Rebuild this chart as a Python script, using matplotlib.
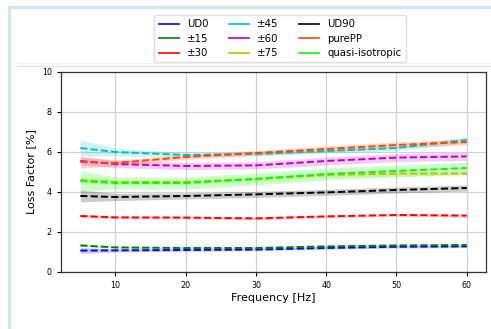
import matplotlib
matplotlib.use("Agg")
import matplotlib.pyplot as plt
from matplotlib.lines import Line2D
from matplotlib.patches import Rectangle
import numpy as np

freq = [5, 10, 20, 30, 40, 50, 60]

names = ["UD0", "±15", "±30", "±45", "±60", "±75", "UD90", "purePP", "quasi-isotropic"]
colors = ["blue", "green", "red", "c", "m", "y", "k", "orangered", "lime"]

ud0 = [1.07, 1.08, 1.10, 1.12, 1.20, 1.26, 1.28]
pm15 = [1.33, 1.23, 1.20, 1.20, 1.28, 1.33, 1.35]
pm30 = [2.80, 2.73, 2.72, 2.68, 2.78, 2.85, 2.82]
pm45 = [6.20, 6.00, 5.85, 5.90, 6.05, 6.20, 6.60]
pm60 = [5.55, 5.40, 5.30, 5.33, 5.55, 5.72, 5.78]
pm75 = [4.60, 4.50, 4.50, 4.65, 4.85, 4.92, 4.92]
ud90 = [3.80, 3.75, 3.80, 3.88, 3.98, 4.10, 4.20]
purepp = [5.50, 5.45, 5.75, 5.95, 6.15, 6.35, 6.50]
quasi = [4.55, 4.45, 4.45, 4.65, 4.90, 5.05, 5.20]

# standard deviations (band half widths)
sd_ud0 = [0.15, 0.08, 0.06, 0.06, 0.06, 0.06, 0.06]
sd_pm15 = [0.05, 0.04, 0.04, 0.04, 0.04, 0.04, 0.04]
sd_pm30 = [0.08, 0.07, 0.07, 0.07, 0.07, 0.07, 0.08]
sd_pm45 = [0.40, 0.20, 0.10, 0.10, 0.10, 0.12, 0.15]
sd_pm60 = [0.20, 0.18, 0.18, 0.18, 0.20, 0.20, 0.20]
sd_pm75 = [0.15, 0.12, 0.12, 0.12, 0.12, 0.12, 0.12]
sd_ud90 = [0.30, 0.18, 0.15, 0.15, 0.15, 0.15, 0.15]
sd_purepp = [0.30, 0.15, 0.12, 0.12, 0.15, 0.15, 0.15]
sd_quasi = [0.50, 0.30, 0.30, 0.30, 0.30, 0.30, 0.30]

means = [ud0, pm15, pm30, pm45, pm60, pm75, ud90, purepp, quasi]
sds = [sd_ud0, sd_pm15, sd_pm30, sd_pm45, sd_pm60, sd_pm75, sd_ud90, sd_purepp, sd_quasi]

fig = plt.figure(figsize=(4.91, 3.29), dpi=100)
ax = fig.add_axes([0.1242, 0.1733, 0.8656, 0.6079])

for m, s, c in zip(means, sds, colors):
    m = np.array(m)
    s = np.array(s)
    ax.fill_between(freq, m - s, m + s, color=c, alpha=0.2, lw=0)
    ax.plot(freq, m, "--", color=c, lw=1.4)

ax.set_ylim(0, 10)
ax.set_yticks([0, 2, 4, 6, 8, 10])
ax.set_xticks([10, 20, 30, 40, 50, 60])
ax.tick_params(labelsize=5.8, length=3, width=0.8)
ax.grid(True, color="#d0d0d0", lw=0.9)
ax.set_axisbelow(True)
ax.set_xlabel("Frequency [Hz]", fontsize=8, labelpad=2)
ax.set_ylabel("Loss Factor [%]", fontsize=8)
for sp in ax.spines.values():
    sp.set_linewidth(0.9)
    sp.set_color("#333333")

handles = [Line2D([0], [0], color=c, lw=1.2) for c in colors]
fig.legend(handles, names, ncol=3, loc="upper center",
           bbox_to_anchor=(280 / 491, 1 - 15 / 329), borderaxespad=0, fontsize=7.3,
           labelspacing=0.45, framealpha=1, edgecolor="#dddddd")

# screenshot frame
fig.patches.append(Rectangle((0, 1 - 62 / 329), 1, 9 / 329, transform=fig.transFigure,
                             facecolor="white", edgecolor="none", zorder=5))
fig.lines.append(Line2D([17 / 491, 1], [1 - 63 / 329] * 2, transform=fig.transFigure,
                        color="#f0f0f0", lw=1, zorder=6))
fig.lines.append(Line2D([17 / 491, 1], [1 - 66 / 329] * 2, transform=fig.transFigure,
                        color="#e2e2e2", lw=1, zorder=6))
fig.patches.append(Rectangle((8 / 491, 0), 3 / 491, 1 - 6 / 329, transform=fig.transFigure,
                             facecolor="#cbe9ec", edgecolor="none", zorder=6))
fig.patches.append(Rectangle((8 / 491, 1 - 8.5 / 329), 1, 2.5 / 329, transform=fig.transFigure,
                             facecolor="#cbe9ec", edgecolor="none", zorder=6))

fig.savefig("out.png", dpi=100)
